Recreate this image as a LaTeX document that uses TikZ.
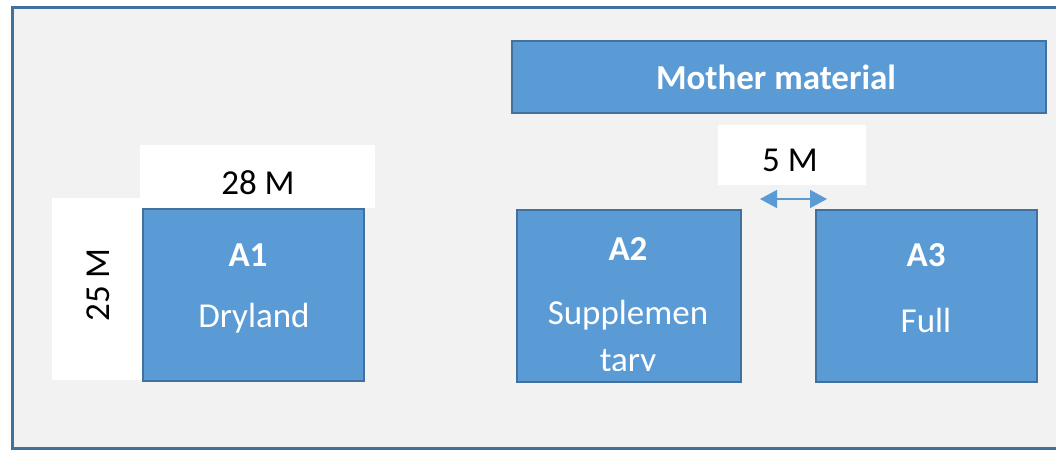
\documentclass[tikz,border=0pt]{standalone}
\usepackage{fontspec}
\setmainfont{Carlito}
\usetikzlibrary{arrows.meta}
\definecolor{bgc}{HTML}{F2F2F2}
\definecolor{boxc}{HTML}{5B9BD5}
\definecolor{edgec}{HTML}{41719C}
\tikzset{
  blue box/.style={draw=edgec, fill=boxc, line width=2pt, anchor=north west, inner sep=0pt},
  white box/.style={fill=white, draw=none, anchor=north west, inner sep=0pt},
  wtxt/.style={text=white, font=\fontsize{35}{40}\selectfont, inner sep=0pt},
  wbold/.style={text=white, font=\fontsize{35}{40}\selectfont\bfseries, inner sep=0pt},
  btxt/.style={text=black, font=\fontsize{35}{40}\selectfont, inner sep=0pt},
}
\begin{document}
\begin{tikzpicture}[x=1pt,y=-1pt]
\useasboundingbox (0,0) rectangle (1056,450);
\fill[white] (0,0) rectangle (1056,450);
\node[draw=edgec, fill=bgc, line width=2.5pt, anchor=north west, minimum width=1080pt, minimum height=441pt, inner sep=0pt] (frame) at (11,6) {};
% white label boxes
\node[white box, minimum width=93pt, minimum height=182pt] (w25) at (52,198) {};
\node[white box, minimum width=235pt, minimum height=63pt] (w28) at (140,145) {};
\node[white box, minimum width=148pt, minimum height=60pt] (w5) at (718,125) {};
\node[btxt] (t28) at (258,183) {28 M};
\node[btxt, rotate=90] (t25) at (98,285) {25 M};
\node[btxt] (t5) at (790,160) {5 M};
% mother material
\node[blue box, minimum width=534pt, minimum height=72pt] (mm) at (511,40) {};
\node[wbold] (tmm) at (776,77) {Mother material};
% plots
\node[blue box, minimum width=221pt, minimum height=172pt] (a1) at (142,208) {};
\node[blue box, minimum width=224pt, minimum height=172pt] (a2) at (516,209) {};
\node[blue box, minimum width=221pt, minimum height=172pt] (a3) at (815,209) {};
\node[wbold] (ta1) at (248,255) {A1};
\node[wtxt] (da1) at (254,318) {Dryland};
\node[wbold] (ta2) at (628,249) {A2};
\begin{scope}
\clip (518,211) rectangle (738,370);
\node[wtxt] (da2a) at (628,315) {Supplemen};
\node[wtxt] (da2b) at (628,363) {tary};
\end{scope}
\node[wbold] (ta3) at (926,255) {A3};
\node[wtxt] (da3) at (926,320) {Full};
% arrow
\coordinate (al) at (760,199);
\coordinate (ar) at (827,199);
\draw[boxc, line width=1.5pt, {Triangle[length=17pt,width=18pt]}-{Triangle[length=17pt,width=18pt]}] (al) -- (ar);
\end{tikzpicture}
\end{document}
